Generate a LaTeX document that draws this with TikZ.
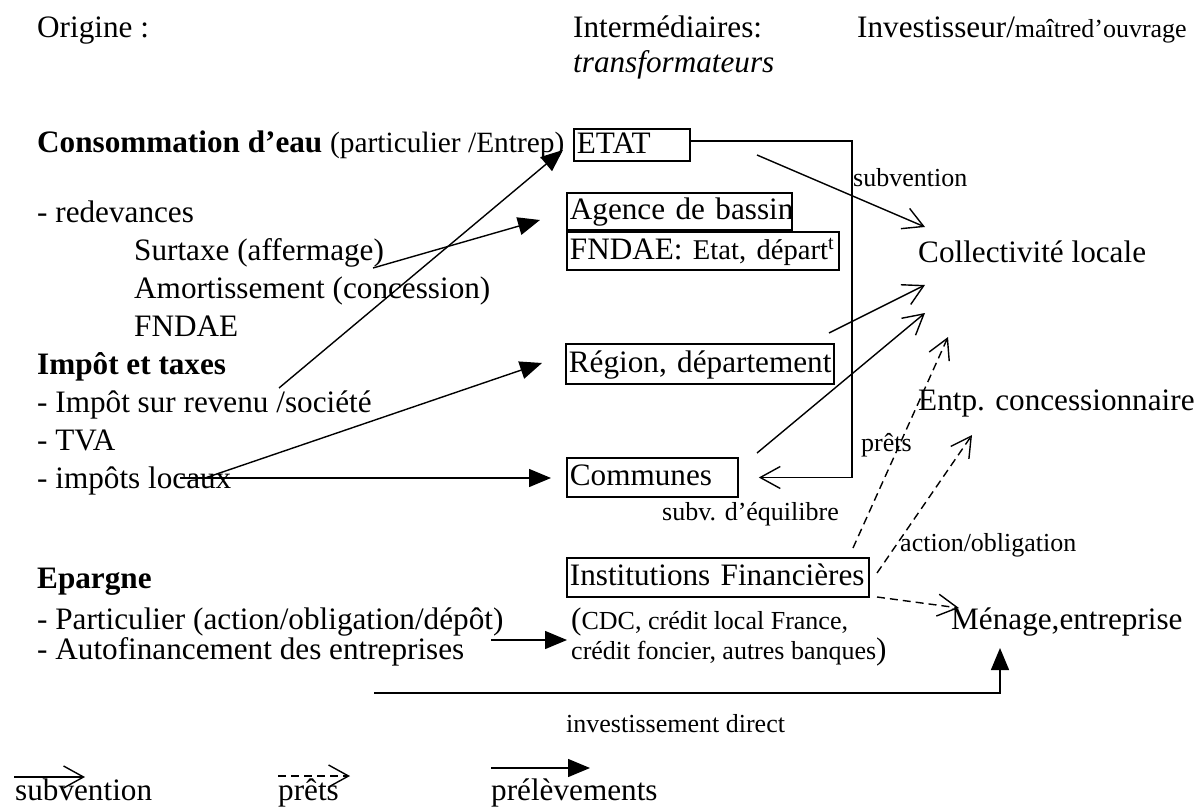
\documentclass[tikz,border=0pt]{standalone}
\usepackage{fontspec}
\setmainfont{Liberation Serif}
\usetikzlibrary{arrows.meta}
\newcommand\szL{\fontsize{31.2}{36}\selectfont}
\newcommand\szM{\fontsize{28.6}{33}\selectfont}
\newcommand\szP{\fontsize{29.4}{33}\selectfont}
\newcommand\szS{\fontsize{26}{30}\selectfont}
\begin{document}
\begin{tikzpicture}[x=1pt,y=-1pt,
  txt/.style={anchor=base west, inner sep=0pt, font=\szL},
  smalltxt/.style={anchor=base west, inner sep=0pt, font=\szS},
  boxnode/.style={draw, line width=1.8pt, anchor=west, inner xsep=3pt, inner ysep=0pt,
    text height=22pt, text depth=6pt, align=left, font=\szL},
  subv/.style={line width=1.4pt, -{Straight Barb[length=20pt,width=22pt,line width=1.4pt]}},
  pret/.style={subv, dash pattern=on 8pt off 5pt},
  prel/.style={line width=1.4pt, -{Triangle[length=22pt,width=18pt]}},
]
\useasboundingbox (0,0) rectangle (1202,808);

% headers
\node[txt] (orig) at (37,38) {Origine :};
\node[txt] (inter) at (573,38) {Intermédiaires:};
\node[txt] (transf) at (573,73) {\itshape transformateurs};
\node[txt] (invest) at (857,38) {Investisseur/{\szS maîtred’ouvrage}};

% left column
\node[txt] (conso) at (37,152) {\textbf{Consommation d’eau} {\szP (particulier /Entrep)}};
\node[txt] (redev) at (37,222) {- redevances};
\node[txt] (surt) at (134,260) {Surtaxe (affermage)};
\node[txt] (amort) at (134,298) {Amortissement (concession)};
\node[txt] (fndael) at (134,336) {FNDAE};
\node[txt] (impot) at (37,374) {\textbf{Impôt et taxes}};
\node[txt] (revenu) at (37,412) {- Impôt sur revenu /société};
\node[txt] (tva) at (37,450) {- TVA};
\node[txt] (locaux) at (37,488) {- impôts locaux};
\node[txt] (epar) at (37,588) {\textbf{Epargne}};
\node[txt] (partic) at (37,629) {- Particulier (action/obligation/dépôt)};
\node[txt] (autof) at (37,659) {- Autofinancement des entreprises};

% intermediaries
\node[boxnode, text width=110pt, minimum height=32pt] (etat) at (573,145) {\mbox{ETAT}};
\node[boxnode, text width=219pt, minimum height=37pt] (agence) at (566,211.5) {\mbox{Agence de bassin}};
\node[boxnode, text width=266pt, minimum height=38pt] (fndae) at (566,251) {\mbox{FNDAE: {\szM Etat, départ\textsuperscript{t}}}};
\node[boxnode, text width=262pt, minimum height=40pt] (region) at (565,364) {\mbox{Région, département}};
\node[boxnode, text width=165pt, minimum height=39pt] (comm) at (566,477.5) {\mbox{Communes}};
\node[boxnode, text width=296pt, minimum height=39pt] (instit) at (566,577.5) {\mbox{Institutions Financières}};
\node[txt] (cdc1) at (571,629) {({\szS CDC, crédit local France,}};
\node[txt] (cdc2) at (571,659) {{\szS crédit foncier, autres banques})};

% investors
\node[txt] (coll) at (918,262) {Collectivité locale};
\node[txt] (entp) at (918,410) {Entp. concessionnaire};
\node[txt] (menage) at (951,629) {Ménage,entreprise};

% labels
\node[smalltxt] (lsubv) at (853,186) {subvention};
\node[smalltxt] (lprets) at (861,451) {prêts};
\node[smalltxt] (lequil) at (662,520) {subv. d’équilibre};
\node[smalltxt] (lact) at (900,551) {action/obligation};
\node[smalltxt] (linv) at (566,732) {investissement direct};

% coordinates
\coordinate (c1) at (852,141);
\coordinate (s1) at (757,155);
\coordinate (t1) at (925,227);
\coordinate (s2) at (829,333);
\coordinate (t2) at (925,285);
\coordinate (s3) at (757,453);
\coordinate (t3) at (925,313);
\coordinate (s4) at (853,548);
\coordinate (t4) at (948,337);
\coordinate (s5) at (877,573);
\coordinate (t5) at (972,435);
\coordinate (s6) at (877,597);
\coordinate (t6) at (959,608);
\coordinate (p1s) at (373,268);
\coordinate (p1t) at (540,220);
\coordinate (p2s) at (279,388);
\coordinate (p2t) at (563,150);
\coordinate (p3s) at (205,478);
\coordinate (p3t) at (542,363);
\coordinate (p4s) at (180,478);
\coordinate (p4t) at (551,478);
\coordinate (p5s) at (491,640);
\coordinate (p5t) at (567,640);
\coordinate (p6s) at (374,693);
\coordinate (p6t) at (1000,648);

% subvention arrows
\draw[subv] (etat.east |- c1) -- (c1) |- ([xshift=20pt]comm.east);
\draw[subv] (s1) -- (t1);
\draw[subv] (s2) -- (t2);
\draw[subv] (s3) -- (t3);

% prets arrows
\draw[pret] (s4) -- (t4);
\draw[pret] (s5) -- (t5);
\draw[pret] (s6) -- (t6);

% prelevements arrows
\draw[prel] (p1s) -- (p1t);
\draw[prel] (p2s) -- (p2t);
\draw[prel] (p3s) -- (p3t);
\draw[prel] (p4s) -- (p4t);
\draw[prel] (p5s) -- (p5t);
\draw[prel] (p6s) -| (p6t);

% legend
\coordinate (l1s) at (14,777);
\coordinate (l1t) at (85,777);
\coordinate (l2s) at (278,776);
\coordinate (l2t) at (350,776);
\coordinate (l3s) at (491,768);
\coordinate (l3t) at (590,768);
\draw[subv] (l1s) -- (l1t);
\draw[pret] (l2s) -- (l2t);
\draw[prel] (l3s) -- (l3t);
\node[txt] (leg1) at (15,800) {subvention};
\node[txt] (leg2) at (278,800) {prêts};
\node[txt] (leg3) at (491,800) {prélèvements};
\end{tikzpicture}
\end{document}
